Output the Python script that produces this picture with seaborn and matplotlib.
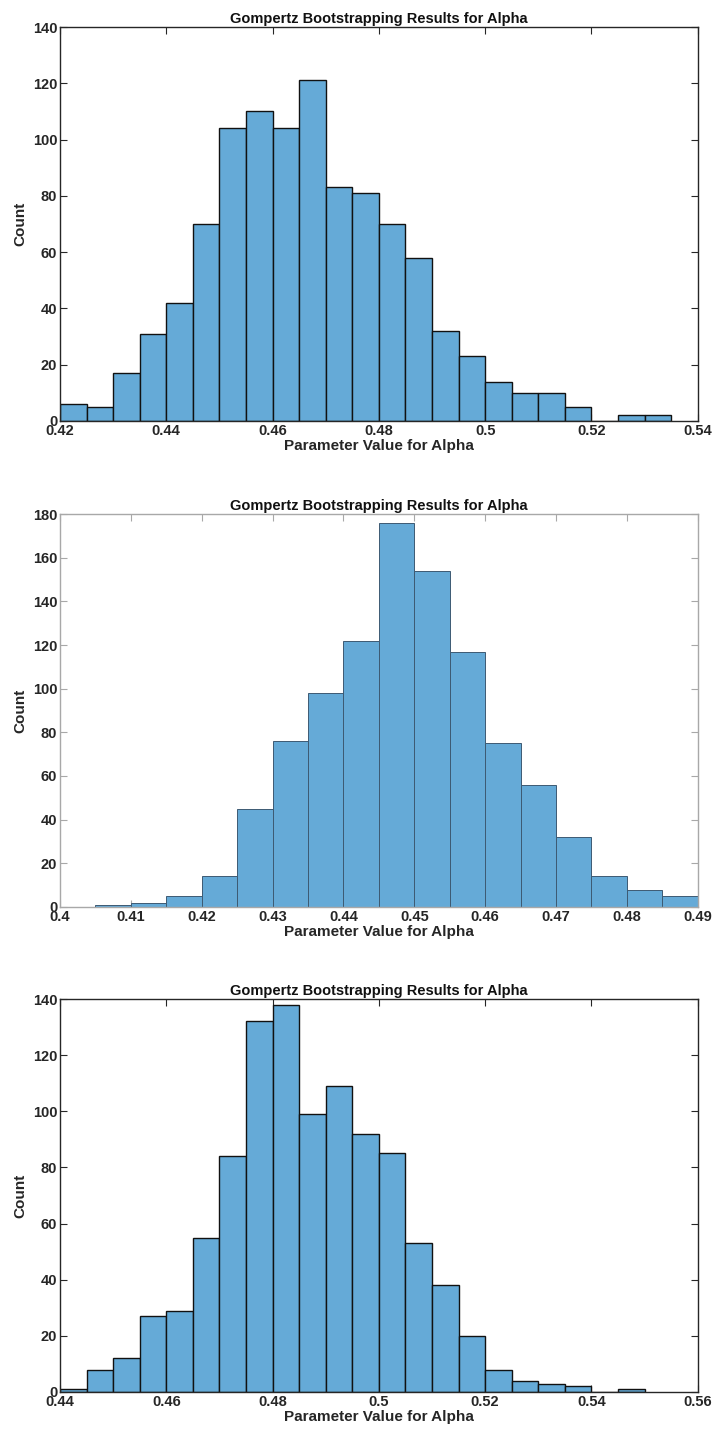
import numpy as np
import pandas as pd
import matplotlib
matplotlib.use("Agg")
import matplotlib.pyplot as plt
import seaborn as sns

# ---- data ----
bin_width = 0.005

start1 = 0.420
counts1 = [6, 5, 17, 31, 42, 70, 104, 110, 104, 121, 83, 81, 70, 58, 32, 23, 14, 10, 10, 5, 0, 2, 2]

start2 = 0.405
counts2 = [1, 2, 5, 14, 45, 76, 98, 122, 176, 154, 117, 75, 56, 32, 14, 8, 5]

start3 = 0.440
counts3 = [1, 8, 12, 27, 29, 55, 84, 132, 138, 99, 109, 92, 85, 53, 38, 20, 8, 4, 3, 2, 0, 1]

xlims = [(0.42, 0.54), (0.40, 0.49), (0.44, 0.56)]
ylims = [(0, 140), (0, 180), (0, 140)]
xticks = [[0.42, 0.44, 0.46, 0.48, 0.50, 0.52, 0.54],
          [0.40, 0.41, 0.42, 0.43, 0.44, 0.45, 0.46, 0.47, 0.48, 0.49],
          [0.44, 0.46, 0.48, 0.50, 0.52, 0.54, 0.56]]
xticklabels = [["0.42", "0.44", "0.46", "0.48", "0.5", "0.52", "0.54"],
               ["0.4", "0.41", "0.42", "0.43", "0.44", "0.45", "0.46", "0.47", "0.48", "0.49"],
               ["0.44", "0.46", "0.48", "0.5", "0.52", "0.54", "0.56"]]
yticks = [list(range(0, 141, 20)), list(range(0, 181, 20)), list(range(0, 141, 20))]

title = "Gompertz Bootstrapping Results for Alpha"
xlabel = "Parameter Value for Alpha"
ylabel = "Count"

# ---- style ----
sns.set_style("white")
plt.rcParams['font.family'] = ['Liberation Sans', 'DejaVu Sans']
plt.rcParams['font.weight'] = 'bold'

fig = plt.figure(figsize=(7.15, 14.29), dpi=100)
positions = [[0.0839, 0.7054, 0.892, 0.2757],
             [0.0839, 0.3653, 0.892, 0.2750],
             [0.0839, 0.0259, 0.892, 0.2750]]

face = "#65AAD7"
edgecolors = ["#111111", "#3d5a73", "#111111"]
edgewidths = [1.0, 0.7, 1.0]
framecolors = ["#262626", "#a8a8a8", "#262626"]

datasets = [(start1, counts1), (start2, counts2), (start3, counts3)]

for i, (start, counts) in enumerate(datasets):
    ax = fig.add_axes(positions[i])
    n = len(counts)
    edges = [round(start + bin_width * k, 4) for k in range(n + 1)]
    centers = [(edges[k] + edges[k + 1]) / 2 for k in range(n)]
    df = pd.DataFrame({"x": centers, "w": [float(c) for c in counts]})
    sns.histplot(data=df, x="x", weights="w", bins=edges, ax=ax,
                 color=face, alpha=1.0, edgecolor=edgecolors[i],
                 linewidth=edgewidths[i])
    ax.set_xlim(*xlims[i])
    ax.set_ylim(*ylims[i])
    ax.set_xticks(xticks[i])
    ax.set_xticklabels(xticklabels[i])
    ax.set_yticks(yticks[i])
    ax.tick_params(direction="in", length=5, width=0.8, colors=framecolors[i],
                   labelcolor="#262626", labelsize=10.5,
                   top=True, right=True, bottom=True, left=True, pad=2)
    for lab in ax.get_xticklabels() + ax.get_yticklabels():
        lab.set_fontweight("bold")
    for sp in ax.spines.values():
        sp.set_visible(True)
        sp.set_color(framecolors[i])
        sp.set_linewidth(1.0)
    ax.set_title(title, fontsize=10.5, fontweight="bold", color="#111111", pad=3)
    ax.set_xlabel(xlabel, fontsize=11, fontweight="bold", color="#262626", labelpad=1)
    ax.set_ylabel(ylabel, fontsize=11, fontweight="bold", color="#262626", labelpad=4)

fig.savefig("out.png", dpi=100, facecolor="white")
